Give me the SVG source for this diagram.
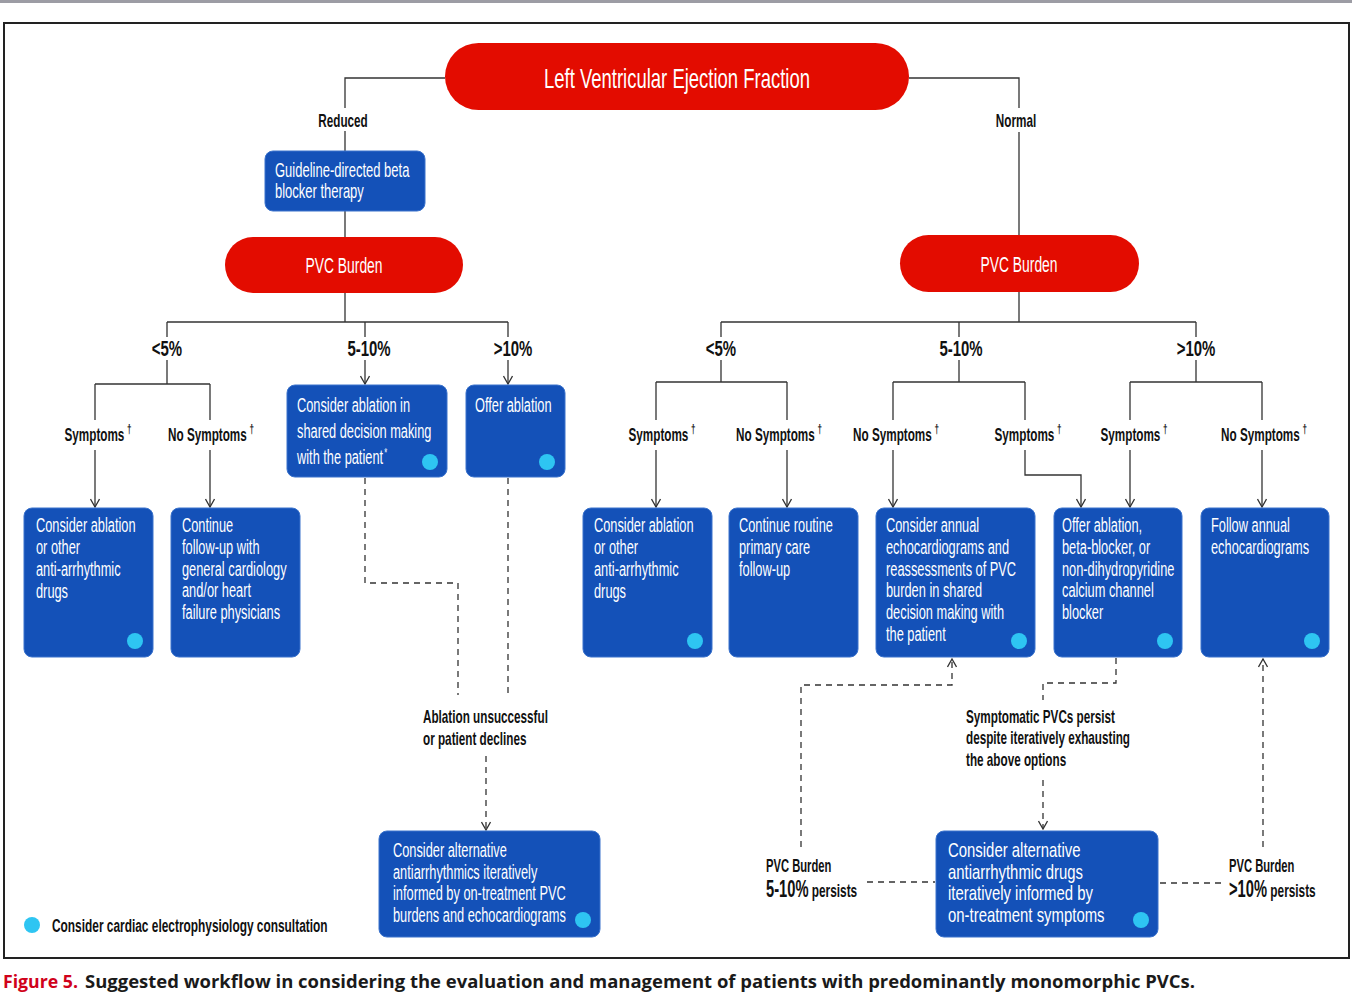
<svg xmlns="http://www.w3.org/2000/svg" width="1352" height="996" viewBox="0 0 1352 996">
<style>
.pill{fill:#e30c00}
.box{fill:#1451b8;stroke:#3a72cc;stroke-width:1}
.dot{fill:#2ec5f2}
.t{font-family:"Liberation Sans",Arial,sans-serif}
.pt{font-size:28px;fill:#fff;text-anchor:middle}
.pb{font-size:22px;fill:#fff;text-anchor:middle}
.bt{font-size:20px;fill:#fff}
.bt2{font-size:21px;fill:#fff}
.lb{font-size:17.5px;font-weight:bold;fill:#111}
.lc{font-size:17.5px;font-weight:bold;fill:#111;text-anchor:middle}
.rg{font-size:22px;font-weight:bold;fill:#111;text-anchor:middle}
.sup{font-size:12px}
.ln{fill:none;stroke:#333;stroke-width:1.3}
.dl{fill:none;stroke:#333;stroke-width:1.3;stroke-dasharray:6 5}
.cap{font-family:"Open Sans","Noto Sans",sans-serif;font-size:18.5px;font-weight:700}
</style>
<defs>
<marker id="arr" viewBox="0 0 10 10" refX="9" refY="5" markerWidth="10" markerHeight="10" markerUnits="userSpaceOnUse" orient="auto">
<path d="M1,0.5 L9,5 L1,9.5" fill="none" stroke="#333" stroke-width="1.3"/>
</marker>
</defs>
<rect x="0" y="0" width="1352" height="3" fill="#9c9ca4"/>
<rect x="4" y="23" width="1345" height="935" fill="#fff" stroke="#222" stroke-width="2"/>

<g id="connectors">
<path class="ln" d="M445,78 H345 V108 M345,131 V151 M345,211 V237"/>
<path class="ln" d="M909,78 H1019 V108 M1019,132 V235"/>
<path class="ln" d="M345,293 V322 M167,322 H508 M167,322 V337 M365,322 V337 M508,322 V337"/>
<path class="ln" d="M167,360 V384 M95,384 H210 M95,384 V420 M210,384 V420"/>
<path class="ln" marker-end="url(#arr)" d="M95,450 V507"/>
<path class="ln" marker-end="url(#arr)" d="M210,450 V507"/>
<path class="ln" marker-end="url(#arr)" d="M365,360 V384"/>
<path class="ln" marker-end="url(#arr)" d="M508,360 V384"/>
<path class="ln" d="M1019,291 V322 M721,322 H1196 M721,322 V337 M959,322 V337 M1196,322 V337"/>
<path class="ln" d="M721,360 V382 M656,382 H787 M656,382 V420 M787,382 V420"/>
<path class="ln" d="M959,360 V382 M893,382 H1025 M893,382 V420 M1025,382 V420"/>
<path class="ln" d="M1196,360 V382 M1130,382 H1262 M1130,382 V420 M1262,382 V420"/>
<path class="ln" marker-end="url(#arr)" d="M656,450 V507"/>
<path class="ln" marker-end="url(#arr)" d="M787,450 V507"/>
<path class="ln" marker-end="url(#arr)" d="M893,450 V507"/>
<path class="ln" marker-end="url(#arr)" d="M1025,450 V475 H1081 V507"/>
<path class="ln" marker-end="url(#arr)" d="M1130,450 V507"/>
<path class="ln" marker-end="url(#arr)" d="M1262,450 V507"/>
<path class="dl" d="M365,478 V583 H458 V695"/>
<path class="dl" d="M508,478 V695"/>
<path class="dl" marker-end="url(#arr)" d="M486,756 V830"/>
<path class="dl" marker-end="url(#arr)" d="M801,847 V685 H952 V659"/>
<path class="dl" d="M867,882 H935"/>
<path class="dl" d="M1116,658 V683 H1043 V700"/>
<path class="dl" marker-end="url(#arr)" d="M1043,780 V829"/>
<path class="dl" d="M1160,883 H1222"/>
<path class="dl" marker-end="url(#arr)" d="M1263,847 V659"/>
</g>

<g id="labels">
<text class="t lc" transform="translate(343,127) scale(0.67,1)">Reduced</text>
<text class="t lc" transform="translate(1016,127) scale(0.67,1)">Normal</text>
<text class="t rg" transform="translate(167,356) scale(0.68,1)">&lt;5%</text>
<text class="t rg" transform="translate(369,356) scale(0.68,1)">5-10%</text>
<text class="t rg" transform="translate(513,356) scale(0.68,1)">&gt;10%</text>
<text class="t rg" transform="translate(721,356) scale(0.68,1)">&lt;5%</text>
<text class="t rg" transform="translate(961,356) scale(0.68,1)">5-10%</text>
<text class="t rg" transform="translate(1196,356) scale(0.68,1)">&gt;10%</text>
<text class="t lc" transform="translate(98,441) scale(0.67,1)">Symptoms<tspan class="sup" dx="4" dy="-8">†</tspan></text>
<text class="t lc" transform="translate(211,441) scale(0.67,1)">No Symptoms<tspan class="sup" dx="4" dy="-8">†</tspan></text>
<text class="t lc" transform="translate(662,441) scale(0.67,1)">Symptoms<tspan class="sup" dx="4" dy="-8">†</tspan></text>
<text class="t lc" transform="translate(779,441) scale(0.67,1)">No Symptoms<tspan class="sup" dx="4" dy="-8">†</tspan></text>
<text class="t lc" transform="translate(896,441) scale(0.67,1)">No Symptoms<tspan class="sup" dx="4" dy="-8">†</tspan></text>
<text class="t lc" transform="translate(1028,441) scale(0.67,1)">Symptoms<tspan class="sup" dx="4" dy="-8">†</tspan></text>
<text class="t lc" transform="translate(1134,441) scale(0.67,1)">Symptoms<tspan class="sup" dx="4" dy="-8">†</tspan></text>
<text class="t lc" transform="translate(1264,441) scale(0.67,1)">No Symptoms<tspan class="sup" dx="4" dy="-8">†</tspan></text>
<text class="t lb" transform="translate(423,723) scale(0.67,1)"><tspan x="0" y="0">Ablation unsuccessful</tspan><tspan x="0" y="22">or patient declines</tspan></text>
<text class="t lb" transform="translate(966,723) scale(0.67,1)"><tspan x="0" y="0">Symptomatic PVCs persist</tspan><tspan x="0" y="21.5">despite iteratively exhausting</tspan><tspan x="0" y="43">the above options</tspan></text>
<text class="t lb" transform="translate(766,872) scale(0.64,1)"><tspan x="0" y="0">PVC Burden</tspan><tspan x="0" y="25" font-size="23px">5-10%</tspan><tspan font-size="18.5px"> persists</tspan></text>
<text class="t lb" transform="translate(1229,872) scale(0.64,1)"><tspan x="0" y="0">PVC Burden</tspan><tspan x="0" y="25" font-size="23px">&gt;10%</tspan><tspan font-size="18.5px"> persists</tspan></text>
</g>

<g id="n-lvef"><rect class="pill" x="445" y="43" width="464" height="67" rx="33.5"/><text class="t pt" transform="translate(677,88) scale(0.66,1)">Left Ventricular Ejection Fraction</text></g>
<g id="n-bb"><rect class="box" x="265" y="151" width="160" height="60" rx="8"/><text class="t bt" transform="translate(275,177) scale(0.65,1)"><tspan x="0" y="0">Guideline-directed beta</tspan><tspan x="0" y="21.5">blocker therapy</tspan></text></g>
<g id="n-pvc-l"><rect class="pill" x="225" y="237" width="238" height="56" rx="28"/><text class="t pb" transform="translate(344,273) scale(0.63,1)">PVC Burden</text></g>
<g id="n-pvc-r"><rect class="pill" x="900" y="235" width="239" height="57" rx="28.5"/><text class="t pb" transform="translate(1019,272) scale(0.63,1)">PVC Burden</text></g>

<g id="n-l1"><rect class="box" x="24" y="508" width="129" height="149" rx="8"/><text class="t bt" transform="translate(36,532) scale(0.64,1)"><tspan x="0" y="0">Consider ablation</tspan><tspan x="0" y="22">or other</tspan><tspan x="0" y="44">anti-arrhythmic</tspan><tspan x="0" y="66">drugs</tspan></text><circle class="dot" cx="135" cy="641" r="8"/></g>
<g id="n-l2"><rect class="box" x="171" y="508" width="129" height="149" rx="8"/><text class="t bt" transform="translate(182,532) scale(0.64,1)"><tspan x="0" y="0">Continue</tspan><tspan x="0" y="22">follow-up with</tspan><tspan x="0" y="44">general cardiology</tspan><tspan x="0" y="65.5">and/or heart</tspan><tspan x="0" y="87">failure physicians</tspan></text></g>
<g id="n-l3"><rect class="box" x="287" y="385" width="160" height="92" rx="8"/><text class="t bt" transform="translate(297,412) scale(0.64,1)"><tspan x="0" y="0">Consider ablation in</tspan><tspan x="0" y="26">shared decision making</tspan><tspan x="0" y="52">with the patient<tspan class="sup" dx="2" dy="-7">*</tspan></tspan></text><circle class="dot" cx="430" cy="462" r="8"/></g>
<g id="n-l4"><rect class="box" x="466" y="385" width="99" height="92" rx="8"/><text class="t bt" transform="translate(475,412) scale(0.64,1)">Offer ablation</text><circle class="dot" cx="547" cy="462" r="8"/></g>
<g id="n-l5"><rect class="box" x="379" y="831" width="221" height="106" rx="8"/><text class="t bt" transform="translate(393,857) scale(0.64,1)"><tspan x="0" y="0">Consider alternative</tspan><tspan x="0" y="21.7">antiarrhythmics iteratively</tspan><tspan x="0" y="43.4">informed by on-treatment PVC</tspan><tspan x="0" y="65">burdens and echocardiograms</tspan></text><circle class="dot" cx="583" cy="920" r="8"/></g>

<g id="n-r1"><rect class="box" x="583" y="508" width="129" height="149" rx="8"/><text class="t bt" transform="translate(594,532) scale(0.64,1)"><tspan x="0" y="0">Consider ablation</tspan><tspan x="0" y="22">or other</tspan><tspan x="0" y="44">anti-arrhythmic</tspan><tspan x="0" y="66">drugs</tspan></text><circle class="dot" cx="695" cy="641" r="8"/></g>
<g id="n-r2"><rect class="box" x="729" y="508" width="129" height="149" rx="8"/><text class="t bt" transform="translate(739,532) scale(0.64,1)"><tspan x="0" y="0">Continue routine</tspan><tspan x="0" y="22">primary care</tspan><tspan x="0" y="44">follow-up</tspan></text></g>
<g id="n-r3"><rect class="box" x="876" y="508" width="159" height="149" rx="8"/><text class="t bt" transform="translate(886,532) scale(0.64,1)"><tspan x="0" y="0">Consider annual</tspan><tspan x="0" y="22">echocardiograms and</tspan><tspan x="0" y="44">reassessments of PVC</tspan><tspan x="0" y="65.5">burden in shared</tspan><tspan x="0" y="87">decision making with</tspan><tspan x="0" y="109">the patient</tspan></text><circle class="dot" cx="1019" cy="641" r="8"/></g>
<g id="n-r4"><rect class="box" x="1054" y="508" width="128" height="149" rx="8"/><text class="t bt" transform="translate(1062,532) scale(0.64,1)"><tspan x="0" y="0">Offer ablation,</tspan><tspan x="0" y="22">beta-blocker, or</tspan><tspan x="0" y="44">non-dihydropyridine</tspan><tspan x="0" y="65.5">calcium channel</tspan><tspan x="0" y="87">blocker</tspan></text><circle class="dot" cx="1165" cy="641" r="8"/></g>
<g id="n-r5"><rect class="box" x="1201" y="508" width="128" height="149" rx="8"/><text class="t bt" transform="translate(1211,532) scale(0.64,1)"><tspan x="0" y="0">Follow annual</tspan><tspan x="0" y="22">echocardiograms</tspan></text><circle class="dot" cx="1312" cy="641" r="8"/></g>
<g id="n-r6"><rect class="box" x="936" y="831" width="222" height="106" rx="8"/><text class="t bt2" transform="translate(948,857) scale(0.71,1)"><tspan x="0" y="0">Consider alternative</tspan><tspan x="0" y="21.7">antiarrhythmic drugs</tspan><tspan x="0" y="43.4">iteratively informed by</tspan><tspan x="0" y="65">on-treatment symptoms</tspan></text><circle class="dot" cx="1141" cy="920" r="8"/></g>

<g id="legend"><circle class="dot" cx="32" cy="925" r="8"/><text class="t lb" transform="translate(52,932) scale(0.68,1)">Consider cardiac electrophysiology consultation</text></g>

<g id="caption">
<text class="cap" x="3" y="988" fill="#d0021b" textLength="75" lengthAdjust="spacingAndGlyphs">Figure 5.</text>
<text class="cap" x="85" y="988" fill="#1a1a1a" textLength="1110" lengthAdjust="spacingAndGlyphs">Suggested workflow in considering the evaluation and management of patients with predominantly monomorphic PVCs.</text>
</g>
</svg>
